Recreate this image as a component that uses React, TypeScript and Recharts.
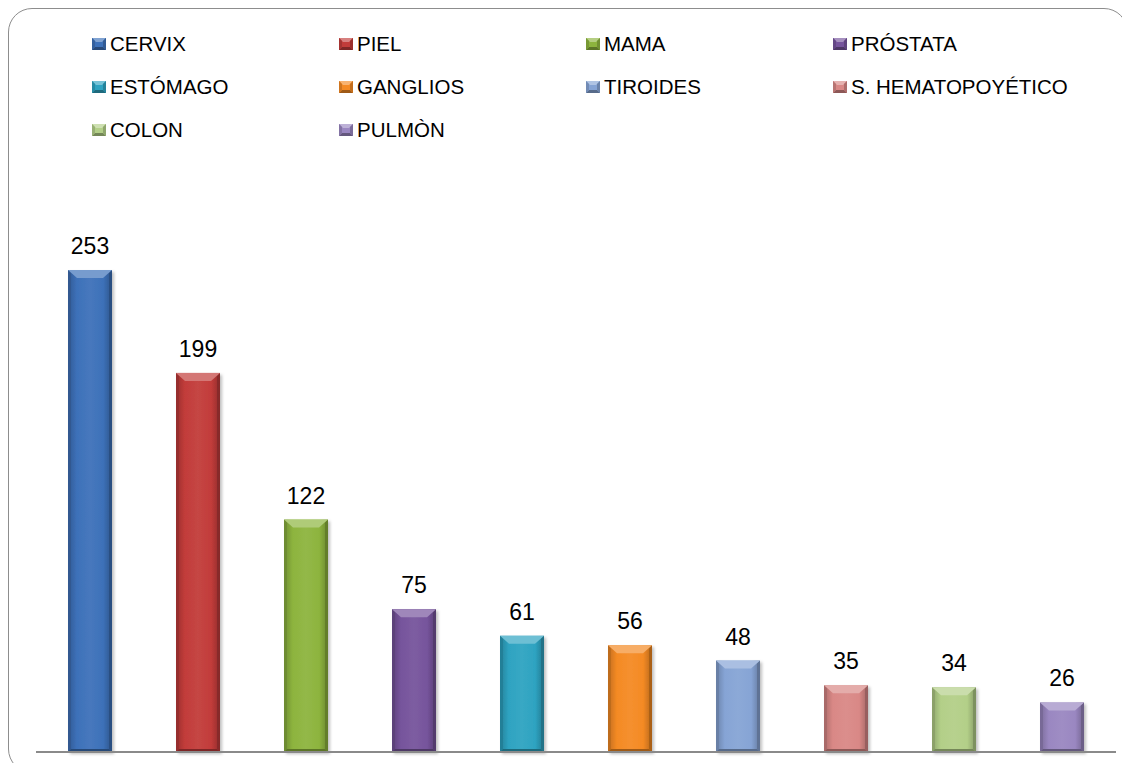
import { Bar, BarChart, Cell, LabelList, XAxis, YAxis } from 'recharts';

// Casos por localización
const sites = [
  'CERVIX',
  'PIEL',
  'MAMA',
  'PRÓSTATA',
  'ESTÓMAGO',
  'GANGLIOS',
  'TIROIDES',
  'S. HEMATOPOYÉTICO',
  'COLON',
  'PULMÒN',
];
const cases = [253, 199, 122, 75, 61, 56, 48, 35, 34, 26];
const siteColors = [
  '#3d71b9',
  '#c23c3a',
  '#8db43e',
  '#76549c',
  '#2ea3c1',
  '#f48a24',
  '#86a4d5',
  '#d98886',
  '#b3cf88',
  '#9a87c1',
];

const data = sites.map((site, i) => ({ site, value: cases[i] }));

const FONT = "'Liberation Sans', Arial, sans-serif";

// mix a hex colour toward white (amt > 0) or black (amt < 0)
function shade(hex: string, amt: number) {
  const n = parseInt(hex.slice(1), 16);
  const ch = [(n >> 16) & 255, (n >> 8) & 255, n & 255].map((c) =>
    Math.round(amt >= 0 ? c + (255 - c) * amt : c * (1 + amt))
  );
  return `rgb(${ch[0]},${ch[1]},${ch[2]})`;
}

function BevelBar(props: any) {
  const { x, y, width: w, height: h, index } = props;
  if (!h || h <= 0) return null;
  const c = siteColors[index];
  const s = 3;
  const bh = Math.min(8, h / 3);
  const bw = 9;
  return (
    <g filter="url(#barShadow)">
      <rect x={x} y={y} width={w} height={h} fill={`url(#body${index})`} />
      <polygon
        points={`${x},${y} ${x + s},${y + s} ${x + s},${y + h - s} ${x},${y + h}`}
        fill={shade(c, -0.22)}
      />
      <polygon
        points={`${x + w},${y} ${x + w - s},${y + s} ${x + w - s},${y + h - s} ${x + w},${y + h}`}
        fill={shade(c, -0.3)}
      />
      <polygon
        points={`${x},${y + h} ${x + s},${y + h - s} ${x + w - s},${y + h - s} ${x + w},${y + h}`}
        fill={shade(c, -0.35)}
      />
      <polygon
        points={`${x},${y} ${x + w},${y} ${x + w - bw},${y + bh} ${x + bw},${y + bh}`}
        fill={shade(c, 0.3)}
      />
    </g>
  );
}

function LegendIcon({ color }: { color: string }) {
  return (
    <svg width={14} height={12} style={{ display: 'block', flex: 'none' }}>
      <rect x={0} y={0} width={14} height={12} fill={color} />
      <polygon points="0,0 14,0 10,4 4,4" fill={shade(color, 0.35)} />
      <polygon points="0,12 14,12 11,9 3,9" fill={shade(color, -0.35)} />
      <polygon points="0,0 3,3 3,9 0,12" fill={shade(color, -0.15)} />
      <polygon points="14,0 11,3 11,9 14,12" fill={shade(color, -0.2)} />
    </svg>
  );
}

const legendCols = [84, 331, 578, 825];
const legendRows = [36, 79, 122];

export default function App() {
  return (
    <div style={{ position: 'relative', width: 1120, height: 765, marginBottom: -10, fontFamily: FONT }}>
      <div
        style={{
          position: 'absolute',
          inset: 0,
          border: '1.5px solid #8d8d8d',
          borderRadius: 24,
          boxSizing: 'border-box',
          pointerEvents: 'none',
        }}
      />
      {sites.map((site, i) => (
        <div
          key={site}
          style={{
            position: 'absolute',
            left: legendCols[i % 4],
            top: legendRows[Math.floor(i / 4)] - 12,
            height: 24,
            display: 'flex',
            alignItems: 'center',
            gap: 4,
            fontSize: 20.5,
            color: '#000',
            whiteSpace: 'nowrap',
          }}
        >
          <LegendIcon color={siteColors[i]} />
          <span>{site}</span>
        </div>
      ))}
      <BarChart
        width={1120}
        height={765}
        data={data}
        margin={{ top: 172.5, right: 12, bottom: 20, left: 28 }}
        barSize={44}
        style={{ position: 'absolute', left: 0, top: 0 }}
      >
        <defs>
          {siteColors.map((c, i) => (
            <linearGradient key={c} id={`body${i}`} x1="0" y1="0" x2="1" y2="0">
              <stop offset="0%" stopColor={shade(c, -0.2)} />
              <stop offset="20%" stopColor={c} />
              <stop offset="50%" stopColor={shade(c, 0.05)} />
              <stop offset="80%" stopColor={c} />
              <stop offset="100%" stopColor={shade(c, -0.25)} />
            </linearGradient>
          ))}
          <filter id="barShadow" x="-20%" y="-5%" width="150%" height="115%">
            <feDropShadow dx="2" dy="2" stdDeviation="1.5" floodColor="#000" floodOpacity="0.25" />
          </filter>
        </defs>
        <XAxis
          dataKey="site"
          tick={false}
          tickLine={false}
          height={1}
          axisLine={{ stroke: '#8a8a8a', strokeWidth: 2 }}
        />
        <YAxis hide domain={[0, 300]} />
        <Bar dataKey="value" shape={<BevelBar />} isAnimationActive={false}>
          {data.map((d, i) => (
            <Cell key={d.site} fill={siteColors[i]} />
          ))}
          <LabelList
            dataKey="value"
            position="top"
            offset={16}
            style={{ fontFamily: FONT, fontSize: 23, fill: '#000' }}
          />
        </Bar>
      </BarChart>
    </div>
  );
}
